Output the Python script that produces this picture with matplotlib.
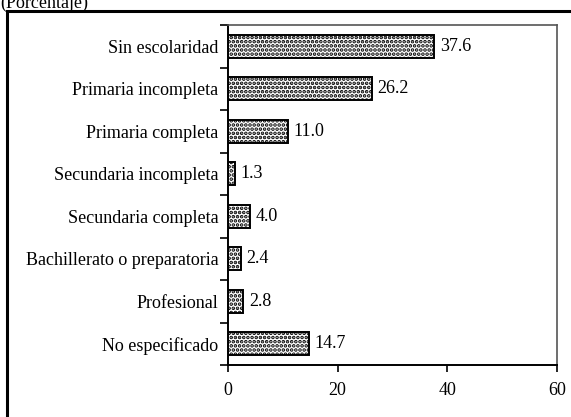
import numpy as np
import matplotlib.pyplot as plt
from matplotlib.patches import Rectangle

categories = ['Sin escolaridad', 'Primaria incompleta', 'Primaria completa',
              'Secundaria incompleta', 'Secundaria completa',
              'Bachillerato o preparatoria', 'Profesional', 'No especificado']
values = [37.6, 26.2, 11.0, 1.3, 4.0, 2.4, 2.8, 14.7]

plt.rcParams['font.family'] = ['Liberation Serif', 'DejaVu Serif']
plt.rcParams['hatch.linewidth'] = 1.8

W, H = 571, 417
FS = 13
fig = plt.figure(figsize=(W / 100, H / 100), dpi=100)
ax = fig.add_axes([228 / W, 1 - 365 / H, (557 - 228) / W, (365 - 25) / H])

n = len(categories)
ypos = np.arange(n)
ax.barh(ypos, values, height=0.54, color='white', edgecolor='black',
        linewidth=1.4, hatch='....')
for y, v in zip(ypos, values):
    ax.text(v + 1.0, y, f'{v:.1f}', va='center', ha='left', fontsize=FS)

ax.set_xlim(0, 60)
ax.set_ylim(n - 0.5, -0.5)
ax.set_xticks([0, 20, 40, 60])
ax.tick_params(axis='x', labelsize=FS, length=5, width=1.2, pad=7)

# ticks between categories, labels at category centers
ax.set_yticks(np.arange(-0.5, n, 1.0))
ax.set_yticklabels([])
ax.set_yticks(ypos, minor=True)
ax.set_yticklabels(categories, minor=True)
ax.tick_params(axis='y', which='major', length=6, width=1.2)
ax.tick_params(axis='y', which='minor', length=0, pad=7, labelsize=FS)

for s in ['left', 'bottom']:
    ax.spines[s].set_linewidth(1.4)
    ax.spines[s].set_color('black')
for s in ['top', 'right']:
    ax.spines[s].set_linewidth(1.2)
    ax.spines[s].set_color('#555555')

fig.text(0, 1 - 8 / H, '(Porcentaje)', ha='left', va='baseline', fontsize=FS)
fig.patches.append(Rectangle((7 / W, -0.1), 1.2, 1 - 11 / H + 0.1,
                             transform=fig.transFigure, fill=False,
                             edgecolor='black', linewidth=2.2))

fig.savefig('out.png', dpi=100)
